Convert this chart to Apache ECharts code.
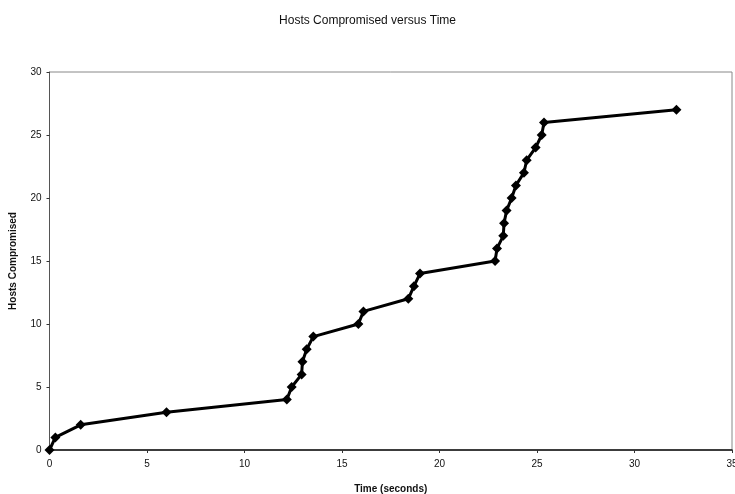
<!DOCTYPE html>
<html>
<head>
<meta charset="utf-8">
<script src="https://cdn.jsdelivr.net/npm/echarts@6/dist/echarts.min.js"></script>
<style>html,body{margin:0;padding:0;background:#fff}#c{width:735px;height:494px}</style>
</head>
<body>
<div id="c"></div>
<script>
const times = [0, 0.3, 1.6, 6.0, 12.17, 12.42, 12.93, 12.97, 13.19, 13.53, 15.84, 16.1, 18.4, 18.69, 19.0, 22.85, 22.95, 23.27, 23.31, 23.44, 23.7, 23.92, 24.33, 24.47, 24.93, 25.24, 25.36, 32.15];
const hosts = [0, 1, 2, 3, 4, 5, 6, 7, 8, 9, 10, 11, 12, 13, 14, 15, 16, 17, 18, 19, 20, 21, 22, 23, 24, 25, 26, 27];
const titleText = "Hosts Compromised versus Time";
const xName = "Time (seconds)";
const yName = "Hosts Compromised";

const chart = echarts.init(document.getElementById('c'));
chart.setOption({
  animation: false,
  backgroundColor: '#fff',
  title: {
    text: titleText, left: 'center', top: 10,
    textStyle: { fontFamily: 'Liberation Sans', fontSize: 12, fontWeight: 'normal', color: '#111' }
  },
  grid: { left: 49.5, right: 3, top: 72, bottom: 44, show: true, borderColor: '#888', borderWidth: 1, backgroundColor: 'transparent', containLabel: false, outerBoundsMode: 'none' },
  xAxis: {
    type: 'value', min: 0, max: 35, interval: 5,
    name: xName, nameLocation: 'middle', nameGap: 34, nameMoveOverlap: false,
    nameTextStyle: { fontFamily: 'Liberation Sans', fontSize: 10, fontWeight: 'bold', color: '#111' },
    axisLine: { show: true, lineStyle: { color: '#111', width: 1.5 } },
    axisTick: { show: true, length: 3, inside: false, lineStyle: { color: '#333' } },
    axisLabel: { fontFamily: 'Liberation Sans', fontSize: 10, color: '#111', margin: 9 },
    splitLine: { show: false }
  },
  yAxis: {
    type: 'value', min: 0, max: 30, interval: 5,
    name: yName, nameLocation: 'middle', nameGap: 31, nameRotate: 90, nameMoveOverlap: false,
    nameTextStyle: { fontFamily: 'Liberation Sans', fontSize: 10, fontWeight: 'bold', color: '#111' },
    axisLine: { show: true, lineStyle: { color: '#555', width: 1 } },
    axisTick: { show: true, length: 3, inside: false, lineStyle: { color: '#333' } },
    axisLabel: { fontFamily: 'Liberation Sans', fontSize: 10, color: '#111', margin: 8 },
    splitLine: { show: false }
  },
  series: [{
    type: 'line',
    data: times.map((t, i) => [t, hosts[i]]),
    lineStyle: { color: '#000', width: 3 },
    itemStyle: { color: '#000' },
    symbol: 'diamond', symbolSize: 10, showAllSymbol: true
  }]
});
</script>
</body>
</html>
